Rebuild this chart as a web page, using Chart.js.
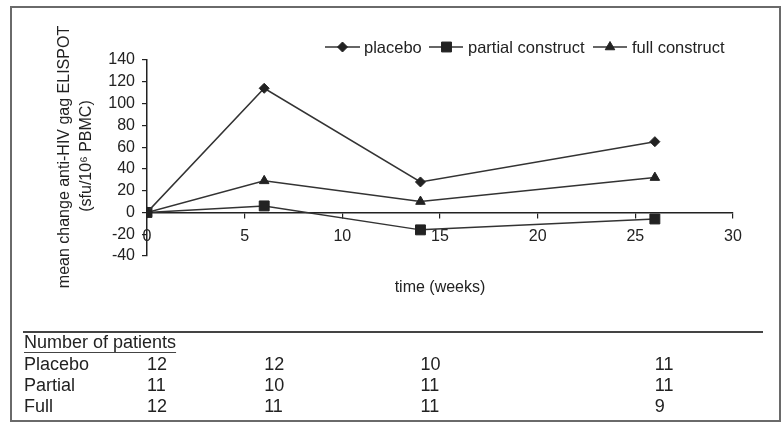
<!DOCTYPE html>
<html>
<head>
<meta charset="utf-8">
<script src="https://cdn.jsdelivr.net/npm/chart.js@4/dist/chart.umd.min.js"></script>
<style>
  html, body { margin: 0; padding: 0; background: #fff; }
  #wrap { position: relative; width: 784px; height: 424px; }
  canvas { display: block; }
</style>
</head>
<body>
<div id="wrap"><canvas id="c" width="784" height="424"></canvas></div>
<script>
// ---- data ----
const weeks = [0, 6, 14, 26];
const seriesNames = ['placebo', 'partial construct', 'full construct'];
const placeboValues = [0, 114, 28, 65];
const partialValues = [0, 6, -16, -6];
const fullValues = [0, 29, 10, 32];

const xTickMin = 0, xTickMax = 30, xTickStep = 5;
const yTickMin = -40, yTickMax = 140, yTickStep = 20;

const tableTitle = 'Number of patients';
const tableRowLabels = ['Placebo', 'Partial', 'Full'];
const nPlacebo = [12, 12, 10, 11];
const nPartial = [11, 10, 11, 11];
const nFull = [12, 11, 11, 9];

const yTitleLine1 = 'mean change anti-HIV gag ELISPOT';
const yTitleLine2 = '(sfu/10\u2076 PBMC)';
const xTitle = 'time (weeks)';

// ---- styling ----
const FONT = "'Liberation Sans', Arial, Helvetica, sans-serif";
const INK = '#222222';
const LINE = '#333333';
const pointStyles = ['rectRot', 'rect', 'triangle'];
const pointRadii = [5, 7, 5.5];

const toXY = vals => weeks.map((w, i) => ({ x: w, y: vals[i] }));
const allValues = [placeboValues, partialValues, fullValues];
const tableRows = [nPlacebo, nPartial, nFull];

const datasets = allValues.map((vals, i) => ({
  label: seriesNames[i],
  data: toXY(vals),
  borderColor: LINE,
  borderWidth: 1.5,
  backgroundColor: INK,
  pointBackgroundColor: INK,
  pointBorderColor: INK,
  pointBorderWidth: 1,
  pointStyle: pointStyles[i],
  pointRadius: pointRadii[i],
  tension: 0,
  fill: false
}));

function drawMarker(ctx, style, r, x, y) {
  ctx.save();
  ctx.fillStyle = INK;
  ctx.strokeStyle = INK;
  ctx.lineWidth = 1;
  ctx.beginPath();
  if (style === 'rectRot') {
    ctx.moveTo(x, y - r); ctx.lineTo(x + r, y); ctx.lineTo(x, y + r); ctx.lineTo(x - r, y);
  } else if (style === 'rect') {
    const s = r * Math.SQRT1_2;
    ctx.rect(x - s, y - s, 2 * s, 2 * s);
  } else {
    const h = r * 1.5, half = r * Math.sqrt(3) / 2;
    ctx.moveTo(x - half, y + h - r); ctx.lineTo(x + half, y + h - r); ctx.lineTo(x, y - r);
  }
  ctx.closePath();
  ctx.fill(); ctx.stroke();
  ctx.restore();
}

const decorations = {
  id: 'decorations',
  afterDraw(chart) {
    const ctx = chart.ctx;
    const xs = chart.scales.x;
    ctx.save();

    // outer frame
    ctx.strokeStyle = '#6a6a6a';
    ctx.lineWidth = 2;
    ctx.strokeRect(11, 7, 769, 414);

    // legend
    const legendY = 47;
    const legendItems = [
      { l0: 325, l1: 360, m: 342.5, t: 364 },
      { l0: 429, l1: 463, m: 446.5, t: 468 },
      { l0: 593, l1: 627, m: 610, t: 632 }
    ];
    ctx.font = '16.5px ' + FONT;
    ctx.textBaseline = 'middle';
    ctx.textAlign = 'left';
    legendItems.forEach((it, i) => {
      ctx.strokeStyle = LINE; ctx.lineWidth = 1.5;
      ctx.beginPath(); ctx.moveTo(it.l0, legendY); ctx.lineTo(it.l1, legendY); ctx.stroke();
      drawMarker(ctx, pointStyles[i], pointRadii[i], it.m, legendY);
      ctx.fillStyle = INK;
      ctx.fillText(seriesNames[i], it.t, legendY + 1);
    });

    // y-axis title (rotated, two lines)
    ctx.save();
    ctx.font = '16px ' + FONT;
    ctx.fillStyle = INK;
    ctx.textAlign = 'center';
    ctx.textBaseline = 'middle';
    ctx.translate(65, 157);
    ctx.rotate(-Math.PI / 2);
    ctx.fillText(yTitleLine1, 0, 0);
    ctx.fillText(yTitleLine2, 1, 22);
    ctx.restore();

    // x-axis title
    ctx.font = '16px ' + FONT;
    ctx.fillStyle = INK;
    ctx.textAlign = 'center';
    ctx.textBaseline = 'middle';
    ctx.fillText(xTitle, 440, 288);

    // separator line
    ctx.strokeStyle = '#444';
    ctx.lineWidth = 2;
    ctx.beginPath(); ctx.moveTo(23, 332); ctx.lineTo(763, 332); ctx.stroke();

    // table
    ctx.font = '18px ' + FONT;
    ctx.fillStyle = INK;
    ctx.textAlign = 'left';
    ctx.textBaseline = 'middle';
    ctx.fillText(tableTitle, 24, 343);
    const tw = ctx.measureText(tableTitle).width;
    ctx.strokeStyle = '#444'; ctx.lineWidth = 1;
    ctx.beginPath(); ctx.moveTo(24, 352.5); ctx.lineTo(24 + tw, 352.5); ctx.stroke();
    const rowY = [365, 386, 407];
    tableRows.forEach((row, r) => {
      ctx.fillText(tableRowLabels[r], 24, rowY[r]);
      row.forEach((n, c) => {
        ctx.fillText(String(n), xs.getPixelForValue(weeks[c]), rowY[r]);
      });
    });

    ctx.restore();
  }
};

new Chart(document.getElementById('c'), {
  type: 'line',
  data: { datasets },
  plugins: [decorations],
  options: {
    responsive: false,
    animation: false,
    events: [],
    layout: { padding: { left: 87, top: 60, right: 51, bottom: 168 } },
    plugins: { legend: { display: false }, tooltip: { enabled: false }, title: { display: false } },
    scales: {
      x: {
        type: 'linear',
        min: xTickMin, max: xTickMax,
        position: { y: 0 },
        ticks: { stepSize: xTickStep, autoSkip: false, color: INK, font: { family: FONT, size: 16 }, padding: 10, maxRotation: 0 },
        grid: { display: true, drawOnChartArea: false, drawTicks: true, tickLength: 5, color: INK, lineWidth: 1.2 },
        border: { display: true, color: INK, width: 1.5 }
      },
      y: {
        type: 'linear',
        min: yTickMin, max: yTickMax,
        ticks: { stepSize: yTickStep, autoSkip: false, color: INK, font: { family: FONT, size: 16 }, padding: 7 },
        grid: { display: true, drawOnChartArea: false, drawTicks: true, tickLength: 5, color: INK, lineWidth: 1.2 },
        border: { display: true, color: INK, width: 1.5 },
        afterFit(s) { s.width = 60; }
      }
    }
  }
});
</script>
</body>
</html>
